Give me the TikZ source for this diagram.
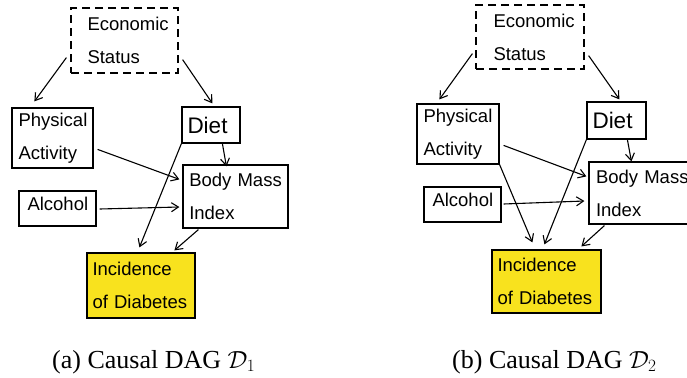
\documentclass[tikz,border=0pt]{standalone}
\usepackage{fontspec}
\setmainfont{Liberation Serif}
\newfontfamily\boxfont{Liberation Sans}
\usetikzlibrary{arrows.meta}
\definecolor{diabyellow}{RGB}{248,226,30}
\begin{document}
\begin{tikzpicture}[x=1bp,y=-1bp,
  bx/.style={draw, line width=1.2bp, align=left, inner ysep=0pt,
    font=\boxfont\fontsize{18.5bp}{33bp}\selectfont},
  dietbx/.style={draw, line width=1.2bp, align=left, inner ysep=0pt,
    font=\boxfont\fontsize{22.5bp}{27bp}\selectfont},
  latent/.style={dash pattern=on 8bp off 5bp},
  outcome/.style={fill=diabyellow},
  arr/.style={line width=1.1bp, -{Straight Barb[length=7bp,width=9bp,line width=1.1bp]}},
  captxt/.style={anchor=base west, inner sep=0pt, font=\fontsize{26bp}{30bp}\selectfont}
]
\useasboundingbox (0,0) rectangle (687,377);
\clip (0,0) rectangle (687,377);

% ---------- (a) ----------
\node[bx, latent, minimum width=107bp, minimum height=65bp, inner xsep=16bp, text width=74bp] (econL) at (124.5,40.5) {Economic\\Status};
\node[bx, minimum width=81bp, minimum height=60bp, inner xsep=6bp, text width=68bp] (paL) at (52.5,138) {Physical\\Activity};
\node[dietbx, minimum width=58bp, minimum height=36bp, inner xsep=5bp, text width=47bp] (dietL) at (211,125) {Diet};
\node[bx, minimum width=105bp, minimum height=63bp, inner xsep=6bp, text width=92.5bp] (bmiL) at (235.5,196.5) {Body~Mass\\Index};
\node[bx, minimum width=77bp, minimum height=35bp, inner xsep=8bp, text width=60bp, text depth=8.5bp] (alcL) at (57.5,208.5) {Alcohol};
\node[bx, outcome, minimum width=108bp, minimum height=65bp, inner xsep=5bp, text width=97bp] (incL) at (141,285.5) {Incidence\\of Diabetes};

\draw[arr] ([shift={(-4,-16)}]econL.south west) -- ([shift={(23,-6)}]paL.north west);
\draw[arr] ([shift={(4,-14)}]econL.south east) -- ([shift={(31,-3)}]dietL.north west);
\draw[arr] ([shift={(4,42)}]paL.north east) -- ([shift={(-3,15)}]bmiL.north west);
\draw[arr] ([shift={(41,0)}]dietL.south west) -- ([shift={(44,2)}]bmiL.north west);
\draw[arr] ([shift={(3,0.5)}]alcL.east) -- ([shift={(-3,10.5)}]bmiL.west);
\draw[arr] (dietL.south west) -- ([shift={(53,-5)}]incL.north west);
\draw[arr] ([shift={(16,1)}]bmiL.south west) -- ([shift={(88,-2)}]incL.north west);

% ---------- (b) ----------
\node[bx, latent, minimum width=108bp, minimum height=64bp, inner xsep=17bp, text width=73bp] (econR) at (530,37) {Economic\\Status};
\node[bx, minimum width=82bp, minimum height=60bp, inner xsep=6bp, text width=69bp] (paR) at (458,134) {Physical\\Activity};
\node[dietbx, minimum width=59bp, minimum height=37bp, inner xsep=5bp, text width=48bp] (dietR) at (616.5,120.5) {Diet};
\node[bx, minimum width=105bp, minimum height=62bp, inner xsep=7bp, text width=91bp] (bmiR) at (641.5,193) {Body~Mass\\Index};
\node[bx, minimum width=77bp, minimum height=35bp, inner xsep=8bp, text width=60bp, text depth=8.5bp] (alcR) at (462.5,204.5) {Alcohol};
\node[bx, outcome, minimum width=109bp, minimum height=63bp, inner xsep=5bp, text width=98bp] (incR) at (546.5,281.5) {Incidence\\of Diabetes};

\draw[arr] ([shift={(-3,-16)}]econR.south west) -- ([shift={(23,-4)}]paR.north west);
\draw[arr] ([shift={(4,-14)}]econR.south east) -- ([shift={(33,-2)}]dietR.north west);
\draw[arr] ([shift={(4,42)}]paR.north east) -- ([shift={(-2,15)}]bmiR.north west);
\draw[arr] ([shift={(41,0)}]dietR.south west) -- ([shift={(43,0)}]bmiR.north west);
\draw[arr] ([shift={(2,-0.5)}]alcR.east) -- ([shift={(-4,8)}]bmiR.west);
\draw[arr] (paR.south east) -- ([shift={(41,-7)}]incR.north west);
\draw[arr] (dietR.south west) -- ([shift={(53,-5)}]incR.north west);
\draw[arr] ([shift={(16,1)}]bmiR.south west) -- ([shift={(90,-3)}]incR.north west);

% ---------- captions ----------
\node[captxt] (capA) at (52,368) {(a) Causal DAG $\mathcal{D}_1$};
\node[captxt] (capB) at (452,368) {(b) Causal DAG $\mathcal{D}_2$};
\end{tikzpicture}
\end{document}
